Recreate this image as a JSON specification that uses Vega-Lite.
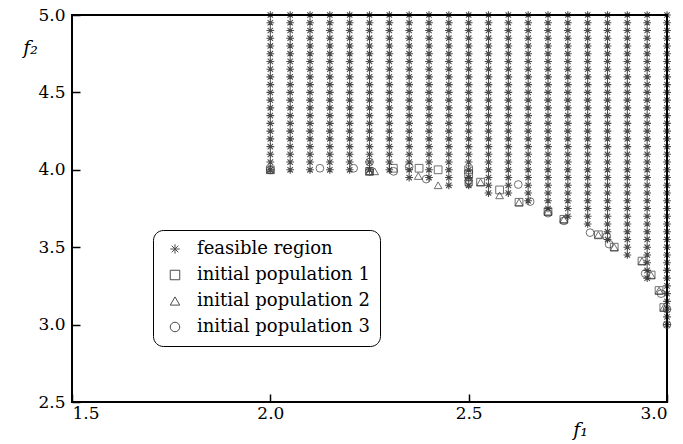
{
  "$schema": "https://vega.github.io/schema/vega-lite/v6.json",
  "width": 595,
  "height": 387,
  "autosize": {"type": "none"},
  "padding": {"left": 72, "top": 15, "right": 16, "bottom": 42},
  "background": "white",
  "config": {
    "view": {"stroke": "black", "strokeWidth": 2},
    "axis": {
      "grid": false,
      "labelFont": "DejaVu Serif",
      "labelFontSize": 17,
      "labelColor": "black",
      "titleFont": "DejaVu Serif",
      "titleFontSize": 19,
      "titleFontStyle": "italic",
      "titleFontWeight": "normal",
      "titleColor": "black"
    },
    "legend": {
      "orient": "none", "legendX": 81, "legendY": 215, "strokeColor": "black", "cornerRadius": 10, "padding": 10, "rowPadding": 8,
      "labelFont": "DejaVu Serif", "labelFontSize": 18, "labelColor": "black", "labelOffset": 13, "symbolOffset": 3, "labelLimit": 400,
      "symbolSize": 90, "symbolStrokeColor": "black", "symbolStrokeWidth": 1, "symbolFillColor": "transparent"
    }
  },
  "layer": [
    {
      "data": {"values": [
        {"f1":2.0,"f2":4},{"f1":2.0,"f2":4.05},{"f1":2.0,"f2":4.1},{"f1":2.0,"f2":4.15},{"f1":2.0,"f2":4.2},{"f1":2.0,"f2":4.25},{"f1":2.0,"f2":4.3},{"f1":2.0,"f2":4.35},{"f1":2.0,"f2":4.4},{"f1":2.0,"f2":4.45},{"f1":2.0,"f2":4.5},{"f1":2.0,"f2":4.55},{"f1":2.0,"f2":4.6},{"f1":2.0,"f2":4.65},{"f1":2.0,"f2":4.7},{"f1":2.0,"f2":4.75},{"f1":2.0,"f2":4.8},{"f1":2.0,"f2":4.85},{"f1":2.0,"f2":4.9},{"f1":2.0,"f2":4.95},{"f1":2.0,"f2":5},
        {"f1":2.05,"f2":4},{"f1":2.05,"f2":4.05},{"f1":2.05,"f2":4.1},{"f1":2.05,"f2":4.15},{"f1":2.05,"f2":4.2},{"f1":2.05,"f2":4.25},{"f1":2.05,"f2":4.3},{"f1":2.05,"f2":4.35},{"f1":2.05,"f2":4.4},{"f1":2.05,"f2":4.45},{"f1":2.05,"f2":4.5},{"f1":2.05,"f2":4.55},{"f1":2.05,"f2":4.6},{"f1":2.05,"f2":4.65},{"f1":2.05,"f2":4.7},{"f1":2.05,"f2":4.75},{"f1":2.05,"f2":4.8},{"f1":2.05,"f2":4.85},{"f1":2.05,"f2":4.9},{"f1":2.05,"f2":4.95},{"f1":2.05,"f2":5},
        {"f1":2.1,"f2":4},{"f1":2.1,"f2":4.05},{"f1":2.1,"f2":4.1},{"f1":2.1,"f2":4.15},{"f1":2.1,"f2":4.2},{"f1":2.1,"f2":4.25},{"f1":2.1,"f2":4.3},{"f1":2.1,"f2":4.35},{"f1":2.1,"f2":4.4},{"f1":2.1,"f2":4.45},{"f1":2.1,"f2":4.5},{"f1":2.1,"f2":4.55},{"f1":2.1,"f2":4.6},{"f1":2.1,"f2":4.65},{"f1":2.1,"f2":4.7},{"f1":2.1,"f2":4.75},{"f1":2.1,"f2":4.8},{"f1":2.1,"f2":4.85},{"f1":2.1,"f2":4.9},{"f1":2.1,"f2":4.95},{"f1":2.1,"f2":5},
        {"f1":2.15,"f2":4},{"f1":2.15,"f2":4.05},{"f1":2.15,"f2":4.1},{"f1":2.15,"f2":4.15},{"f1":2.15,"f2":4.2},{"f1":2.15,"f2":4.25},{"f1":2.15,"f2":4.3},{"f1":2.15,"f2":4.35},{"f1":2.15,"f2":4.4},{"f1":2.15,"f2":4.45},{"f1":2.15,"f2":4.5},{"f1":2.15,"f2":4.55},{"f1":2.15,"f2":4.6},{"f1":2.15,"f2":4.65},{"f1":2.15,"f2":4.7},{"f1":2.15,"f2":4.75},{"f1":2.15,"f2":4.8},{"f1":2.15,"f2":4.85},{"f1":2.15,"f2":4.9},{"f1":2.15,"f2":4.95},{"f1":2.15,"f2":5},
        {"f1":2.2,"f2":4},{"f1":2.2,"f2":4.05},{"f1":2.2,"f2":4.1},{"f1":2.2,"f2":4.15},{"f1":2.2,"f2":4.2},{"f1":2.2,"f2":4.25},{"f1":2.2,"f2":4.3},{"f1":2.2,"f2":4.35},{"f1":2.2,"f2":4.4},{"f1":2.2,"f2":4.45},{"f1":2.2,"f2":4.5},{"f1":2.2,"f2":4.55},{"f1":2.2,"f2":4.6},{"f1":2.2,"f2":4.65},{"f1":2.2,"f2":4.7},{"f1":2.2,"f2":4.75},{"f1":2.2,"f2":4.8},{"f1":2.2,"f2":4.85},{"f1":2.2,"f2":4.9},{"f1":2.2,"f2":4.95},{"f1":2.2,"f2":5},
        {"f1":2.25,"f2":4},{"f1":2.25,"f2":4.05},{"f1":2.25,"f2":4.1},{"f1":2.25,"f2":4.15},{"f1":2.25,"f2":4.2},{"f1":2.25,"f2":4.25},{"f1":2.25,"f2":4.3},{"f1":2.25,"f2":4.35},{"f1":2.25,"f2":4.4},{"f1":2.25,"f2":4.45},{"f1":2.25,"f2":4.5},{"f1":2.25,"f2":4.55},{"f1":2.25,"f2":4.6},{"f1":2.25,"f2":4.65},{"f1":2.25,"f2":4.7},{"f1":2.25,"f2":4.75},{"f1":2.25,"f2":4.8},{"f1":2.25,"f2":4.85},{"f1":2.25,"f2":4.9},{"f1":2.25,"f2":4.95},{"f1":2.25,"f2":5},
        {"f1":2.3,"f2":4},{"f1":2.3,"f2":4.05},{"f1":2.3,"f2":4.1},{"f1":2.3,"f2":4.15},{"f1":2.3,"f2":4.2},{"f1":2.3,"f2":4.25},{"f1":2.3,"f2":4.3},{"f1":2.3,"f2":4.35},{"f1":2.3,"f2":4.4},{"f1":2.3,"f2":4.45},{"f1":2.3,"f2":4.5},{"f1":2.3,"f2":4.55},{"f1":2.3,"f2":4.6},{"f1":2.3,"f2":4.65},{"f1":2.3,"f2":4.7},{"f1":2.3,"f2":4.75},{"f1":2.3,"f2":4.8},{"f1":2.3,"f2":4.85},{"f1":2.3,"f2":4.9},{"f1":2.3,"f2":4.95},{"f1":2.3,"f2":5},
        {"f1":2.35,"f2":3.95},{"f1":2.35,"f2":4},{"f1":2.35,"f2":4.05},{"f1":2.35,"f2":4.1},{"f1":2.35,"f2":4.15},{"f1":2.35,"f2":4.2},{"f1":2.35,"f2":4.25},{"f1":2.35,"f2":4.3},{"f1":2.35,"f2":4.35},{"f1":2.35,"f2":4.4},{"f1":2.35,"f2":4.45},{"f1":2.35,"f2":4.5},{"f1":2.35,"f2":4.55},{"f1":2.35,"f2":4.6},{"f1":2.35,"f2":4.65},{"f1":2.35,"f2":4.7},{"f1":2.35,"f2":4.75},{"f1":2.35,"f2":4.8},{"f1":2.35,"f2":4.85},{"f1":2.35,"f2":4.9},{"f1":2.35,"f2":4.95},{"f1":2.35,"f2":5},
        {"f1":2.4,"f2":3.95},{"f1":2.4,"f2":4},{"f1":2.4,"f2":4.05},{"f1":2.4,"f2":4.1},{"f1":2.4,"f2":4.15},{"f1":2.4,"f2":4.2},{"f1":2.4,"f2":4.25},{"f1":2.4,"f2":4.3},{"f1":2.4,"f2":4.35},{"f1":2.4,"f2":4.4},{"f1":2.4,"f2":4.45},{"f1":2.4,"f2":4.5},{"f1":2.4,"f2":4.55},{"f1":2.4,"f2":4.6},{"f1":2.4,"f2":4.65},{"f1":2.4,"f2":4.7},{"f1":2.4,"f2":4.75},{"f1":2.4,"f2":4.8},{"f1":2.4,"f2":4.85},{"f1":2.4,"f2":4.9},{"f1":2.4,"f2":4.95},{"f1":2.4,"f2":5},
        {"f1":2.45,"f2":3.9},{"f1":2.45,"f2":3.95},{"f1":2.45,"f2":4},{"f1":2.45,"f2":4.05},{"f1":2.45,"f2":4.1},{"f1":2.45,"f2":4.15},{"f1":2.45,"f2":4.2},{"f1":2.45,"f2":4.25},{"f1":2.45,"f2":4.3},{"f1":2.45,"f2":4.35},{"f1":2.45,"f2":4.4},{"f1":2.45,"f2":4.45},{"f1":2.45,"f2":4.5},{"f1":2.45,"f2":4.55},{"f1":2.45,"f2":4.6},{"f1":2.45,"f2":4.65},{"f1":2.45,"f2":4.7},{"f1":2.45,"f2":4.75},{"f1":2.45,"f2":4.8},{"f1":2.45,"f2":4.85},{"f1":2.45,"f2":4.9},{"f1":2.45,"f2":4.95},{"f1":2.45,"f2":5},
        {"f1":2.5,"f2":3.9},{"f1":2.5,"f2":3.95},{"f1":2.5,"f2":4},{"f1":2.5,"f2":4.05},{"f1":2.5,"f2":4.1},{"f1":2.5,"f2":4.15},{"f1":2.5,"f2":4.2},{"f1":2.5,"f2":4.25},{"f1":2.5,"f2":4.3},{"f1":2.5,"f2":4.35},{"f1":2.5,"f2":4.4},{"f1":2.5,"f2":4.45},{"f1":2.5,"f2":4.5},{"f1":2.5,"f2":4.55},{"f1":2.5,"f2":4.6},{"f1":2.5,"f2":4.65},{"f1":2.5,"f2":4.7},{"f1":2.5,"f2":4.75},{"f1":2.5,"f2":4.8},{"f1":2.5,"f2":4.85},{"f1":2.5,"f2":4.9},{"f1":2.5,"f2":4.95},{"f1":2.5,"f2":5},
        {"f1":2.55,"f2":3.85},{"f1":2.55,"f2":3.9},{"f1":2.55,"f2":3.95},{"f1":2.55,"f2":4},{"f1":2.55,"f2":4.05},{"f1":2.55,"f2":4.1},{"f1":2.55,"f2":4.15},{"f1":2.55,"f2":4.2},{"f1":2.55,"f2":4.25},{"f1":2.55,"f2":4.3},{"f1":2.55,"f2":4.35},{"f1":2.55,"f2":4.4},{"f1":2.55,"f2":4.45},{"f1":2.55,"f2":4.5},{"f1":2.55,"f2":4.55},{"f1":2.55,"f2":4.6},{"f1":2.55,"f2":4.65},{"f1":2.55,"f2":4.7},{"f1":2.55,"f2":4.75},{"f1":2.55,"f2":4.8},{"f1":2.55,"f2":4.85},{"f1":2.55,"f2":4.9},{"f1":2.55,"f2":4.95},{"f1":2.55,"f2":5},
        {"f1":2.6,"f2":3.85},{"f1":2.6,"f2":3.9},{"f1":2.6,"f2":3.95},{"f1":2.6,"f2":4},{"f1":2.6,"f2":4.05},{"f1":2.6,"f2":4.1},{"f1":2.6,"f2":4.15},{"f1":2.6,"f2":4.2},{"f1":2.6,"f2":4.25},{"f1":2.6,"f2":4.3},{"f1":2.6,"f2":4.35},{"f1":2.6,"f2":4.4},{"f1":2.6,"f2":4.45},{"f1":2.6,"f2":4.5},{"f1":2.6,"f2":4.55},{"f1":2.6,"f2":4.6},{"f1":2.6,"f2":4.65},{"f1":2.6,"f2":4.7},{"f1":2.6,"f2":4.75},{"f1":2.6,"f2":4.8},{"f1":2.6,"f2":4.85},{"f1":2.6,"f2":4.9},{"f1":2.6,"f2":4.95},{"f1":2.6,"f2":5},
        {"f1":2.65,"f2":3.8},{"f1":2.65,"f2":3.85},{"f1":2.65,"f2":3.9},{"f1":2.65,"f2":3.95},{"f1":2.65,"f2":4},{"f1":2.65,"f2":4.05},{"f1":2.65,"f2":4.1},{"f1":2.65,"f2":4.15},{"f1":2.65,"f2":4.2},{"f1":2.65,"f2":4.25},{"f1":2.65,"f2":4.3},{"f1":2.65,"f2":4.35},{"f1":2.65,"f2":4.4},{"f1":2.65,"f2":4.45},{"f1":2.65,"f2":4.5},{"f1":2.65,"f2":4.55},{"f1":2.65,"f2":4.6},{"f1":2.65,"f2":4.65},{"f1":2.65,"f2":4.7},{"f1":2.65,"f2":4.75},{"f1":2.65,"f2":4.8},{"f1":2.65,"f2":4.85},{"f1":2.65,"f2":4.9},{"f1":2.65,"f2":4.95},{"f1":2.65,"f2":5},
        {"f1":2.7,"f2":3.75},{"f1":2.7,"f2":3.8},{"f1":2.7,"f2":3.85},{"f1":2.7,"f2":3.9},{"f1":2.7,"f2":3.95},{"f1":2.7,"f2":4},{"f1":2.7,"f2":4.05},{"f1":2.7,"f2":4.1},{"f1":2.7,"f2":4.15},{"f1":2.7,"f2":4.2},{"f1":2.7,"f2":4.25},{"f1":2.7,"f2":4.3},{"f1":2.7,"f2":4.35},{"f1":2.7,"f2":4.4},{"f1":2.7,"f2":4.45},{"f1":2.7,"f2":4.5},{"f1":2.7,"f2":4.55},{"f1":2.7,"f2":4.6},{"f1":2.7,"f2":4.65},{"f1":2.7,"f2":4.7},{"f1":2.7,"f2":4.75},{"f1":2.7,"f2":4.8},{"f1":2.7,"f2":4.85},{"f1":2.7,"f2":4.9},{"f1":2.7,"f2":4.95},{"f1":2.7,"f2":5},
        {"f1":2.75,"f2":3.7},{"f1":2.75,"f2":3.75},{"f1":2.75,"f2":3.8},{"f1":2.75,"f2":3.85},{"f1":2.75,"f2":3.9},{"f1":2.75,"f2":3.95},{"f1":2.75,"f2":4},{"f1":2.75,"f2":4.05},{"f1":2.75,"f2":4.1},{"f1":2.75,"f2":4.15},{"f1":2.75,"f2":4.2},{"f1":2.75,"f2":4.25},{"f1":2.75,"f2":4.3},{"f1":2.75,"f2":4.35},{"f1":2.75,"f2":4.4},{"f1":2.75,"f2":4.45},{"f1":2.75,"f2":4.5},{"f1":2.75,"f2":4.55},{"f1":2.75,"f2":4.6},{"f1":2.75,"f2":4.65},{"f1":2.75,"f2":4.7},{"f1":2.75,"f2":4.75},{"f1":2.75,"f2":4.8},{"f1":2.75,"f2":4.85},{"f1":2.75,"f2":4.9},{"f1":2.75,"f2":4.95},{"f1":2.75,"f2":5},
        {"f1":2.8,"f2":3.65},{"f1":2.8,"f2":3.7},{"f1":2.8,"f2":3.75},{"f1":2.8,"f2":3.8},{"f1":2.8,"f2":3.85},{"f1":2.8,"f2":3.9},{"f1":2.8,"f2":3.95},{"f1":2.8,"f2":4},{"f1":2.8,"f2":4.05},{"f1":2.8,"f2":4.1},{"f1":2.8,"f2":4.15},{"f1":2.8,"f2":4.2},{"f1":2.8,"f2":4.25},{"f1":2.8,"f2":4.3},{"f1":2.8,"f2":4.35},{"f1":2.8,"f2":4.4},{"f1":2.8,"f2":4.45},{"f1":2.8,"f2":4.5},{"f1":2.8,"f2":4.55},{"f1":2.8,"f2":4.6},{"f1":2.8,"f2":4.65},{"f1":2.8,"f2":4.7},{"f1":2.8,"f2":4.75},{"f1":2.8,"f2":4.8},{"f1":2.8,"f2":4.85},{"f1":2.8,"f2":4.9},{"f1":2.8,"f2":4.95},{"f1":2.8,"f2":5},
        {"f1":2.85,"f2":3.55},{"f1":2.85,"f2":3.6},{"f1":2.85,"f2":3.65},{"f1":2.85,"f2":3.7},{"f1":2.85,"f2":3.75},{"f1":2.85,"f2":3.8},{"f1":2.85,"f2":3.85},{"f1":2.85,"f2":3.9},{"f1":2.85,"f2":3.95},{"f1":2.85,"f2":4},{"f1":2.85,"f2":4.05},{"f1":2.85,"f2":4.1},{"f1":2.85,"f2":4.15},{"f1":2.85,"f2":4.2},{"f1":2.85,"f2":4.25},{"f1":2.85,"f2":4.3},{"f1":2.85,"f2":4.35},{"f1":2.85,"f2":4.4},{"f1":2.85,"f2":4.45},{"f1":2.85,"f2":4.5},{"f1":2.85,"f2":4.55},{"f1":2.85,"f2":4.6},{"f1":2.85,"f2":4.65},{"f1":2.85,"f2":4.7},{"f1":2.85,"f2":4.75},{"f1":2.85,"f2":4.8},{"f1":2.85,"f2":4.85},{"f1":2.85,"f2":4.9},{"f1":2.85,"f2":4.95},{"f1":2.85,"f2":5},
        {"f1":2.9,"f2":3.45},{"f1":2.9,"f2":3.5},{"f1":2.9,"f2":3.55},{"f1":2.9,"f2":3.6},{"f1":2.9,"f2":3.65},{"f1":2.9,"f2":3.7},{"f1":2.9,"f2":3.75},{"f1":2.9,"f2":3.8},{"f1":2.9,"f2":3.85},{"f1":2.9,"f2":3.9},{"f1":2.9,"f2":3.95},{"f1":2.9,"f2":4},{"f1":2.9,"f2":4.05},{"f1":2.9,"f2":4.1},{"f1":2.9,"f2":4.15},{"f1":2.9,"f2":4.2},{"f1":2.9,"f2":4.25},{"f1":2.9,"f2":4.3},{"f1":2.9,"f2":4.35},{"f1":2.9,"f2":4.4},{"f1":2.9,"f2":4.45},{"f1":2.9,"f2":4.5},{"f1":2.9,"f2":4.55},{"f1":2.9,"f2":4.6},{"f1":2.9,"f2":4.65},{"f1":2.9,"f2":4.7},{"f1":2.9,"f2":4.75},{"f1":2.9,"f2":4.8},{"f1":2.9,"f2":4.85},{"f1":2.9,"f2":4.9},{"f1":2.9,"f2":4.95},{"f1":2.9,"f2":5},
        {"f1":2.95,"f2":3.3},{"f1":2.95,"f2":3.35},{"f1":2.95,"f2":3.4},{"f1":2.95,"f2":3.45},{"f1":2.95,"f2":3.5},{"f1":2.95,"f2":3.55},{"f1":2.95,"f2":3.6},{"f1":2.95,"f2":3.65},{"f1":2.95,"f2":3.7},{"f1":2.95,"f2":3.75},{"f1":2.95,"f2":3.8},{"f1":2.95,"f2":3.85},{"f1":2.95,"f2":3.9},{"f1":2.95,"f2":3.95},{"f1":2.95,"f2":4},{"f1":2.95,"f2":4.05},{"f1":2.95,"f2":4.1},{"f1":2.95,"f2":4.15},{"f1":2.95,"f2":4.2},{"f1":2.95,"f2":4.25},{"f1":2.95,"f2":4.3},{"f1":2.95,"f2":4.35},{"f1":2.95,"f2":4.4},{"f1":2.95,"f2":4.45},{"f1":2.95,"f2":4.5},{"f1":2.95,"f2":4.55},{"f1":2.95,"f2":4.6},{"f1":2.95,"f2":4.65},{"f1":2.95,"f2":4.7},{"f1":2.95,"f2":4.75},{"f1":2.95,"f2":4.8},{"f1":2.95,"f2":4.85},{"f1":2.95,"f2":4.9},{"f1":2.95,"f2":4.95},{"f1":2.95,"f2":5},
        {"f1":3.0,"f2":3},{"f1":3.0,"f2":3.05},{"f1":3.0,"f2":3.1},{"f1":3.0,"f2":3.15},{"f1":3.0,"f2":3.2},{"f1":3.0,"f2":3.25},{"f1":3.0,"f2":3.3},{"f1":3.0,"f2":3.35},{"f1":3.0,"f2":3.4},{"f1":3.0,"f2":3.45},{"f1":3.0,"f2":3.5},{"f1":3.0,"f2":3.55},{"f1":3.0,"f2":3.6},{"f1":3.0,"f2":3.65},{"f1":3.0,"f2":3.7},{"f1":3.0,"f2":3.75},{"f1":3.0,"f2":3.8},{"f1":3.0,"f2":3.85},{"f1":3.0,"f2":3.9},{"f1":3.0,"f2":3.95},{"f1":3.0,"f2":4},{"f1":3.0,"f2":4.05},{"f1":3.0,"f2":4.1},{"f1":3.0,"f2":4.15},{"f1":3.0,"f2":4.2},{"f1":3.0,"f2":4.25},{"f1":3.0,"f2":4.3},{"f1":3.0,"f2":4.35},{"f1":3.0,"f2":4.4},{"f1":3.0,"f2":4.45},{"f1":3.0,"f2":4.5},{"f1":3.0,"f2":4.55},{"f1":3.0,"f2":4.6},{"f1":3.0,"f2":4.65},{"f1":3.0,"f2":4.7},{"f1":3.0,"f2":4.75},{"f1":3.0,"f2":4.8},{"f1":3.0,"f2":4.85},{"f1":3.0,"f2":4.9},{"f1":3.0,"f2":4.95},{"f1":3.0,"f2":5}
      ]},
      "mark": {"type": "point", "filled": false, "color": "#000000", "strokeWidth": 1.1, "size": 60, "clip": false},
      "encoding": {
        "x": {"field": "f1", "type": "quantitative", "scale": {"domain": [1.5, 3.0], "nice": false, "zero": false},
              "axis": {"orient": "bottom", "values": [1.5, 2.0, 2.5, 3.0], "format": ".1f", "title": "f₁", "zindex": 5, "domain": false, "ticks": true, "tickSize": 8, "tickWidth": 1.5, "tickColor": "black", "offset": -8, "labelPadding": 3, "titleX": 508, "titleY": 26, "titleAlign": "center", "titleBaseline": "top"}},
        "y": {"field": "f2", "type": "quantitative", "scale": {"domain": [2.5, 5.0], "nice": false, "zero": false},
              "axis": {"orient": "left", "values": [2.5, 3.0, 3.5, 4.0, 4.5, 5.0], "format": ".1f", "title": "f₂", "zindex": 5, "domain": false, "ticks": true, "tickSize": 8, "tickWidth": 1.5, "tickColor": "black", "offset": -8, "labelPadding": 7, "titleAngle": 0, "titleX": -50, "titleY": 32, "titleAlign": "center", "titleBaseline": "middle"}},
        "shape": {"datum": "feasible region", "type": "nominal", "title": null,
                  "scale": {"domain": ["feasible region", "initial population 1", "initial population 2", "initial population 3"],
                            "range": ["M0,-1L0,1M-1,0L1,0M-0.7,-0.7L0.7,0.7M-0.7,0.7L0.7,-0.7", "square", "triangle-up", "circle"]},
                  "legend": {"title": null, "labelLimit": 400}}
      }
    },
    {
      "data": {"values": [
        {"f1":2.0,"f2":4.0,"series":"initial population 1"},
        {"f1":2.25,"f2":3.99,"series":"initial population 1"},
        {"f1":2.31,"f2":4.01,"series":"initial population 1"},
        {"f1":2.375,"f2":4.01,"series":"initial population 1"},
        {"f1":2.423,"f2":4.0,"series":"initial population 1"},
        {"f1":2.5,"f2":4.0,"series":"initial population 1"},
        {"f1":2.5,"f2":3.97,"series":"initial population 1"},
        {"f1":2.53,"f2":3.92,"series":"initial population 1"},
        {"f1":2.578,"f2":3.87,"series":"initial population 1"},
        {"f1":2.627,"f2":3.79,"series":"initial population 1"},
        {"f1":2.7,"f2":3.73,"series":"initial population 1"},
        {"f1":2.74,"f2":3.68,"series":"initial population 1"},
        {"f1":2.827,"f2":3.58,"series":"initial population 1"},
        {"f1":2.867,"f2":3.5,"series":"initial population 1"},
        {"f1":2.937,"f2":3.41,"series":"initial population 1"},
        {"f1":2.96,"f2":3.32,"series":"initial population 1"},
        {"f1":2.98,"f2":3.22,"series":"initial population 1"},
        {"f1":2.992,"f2":3.11,"series":"initial population 1"},
        {"f1":2.0,"f2":4.0,"series":"initial population 2"},
        {"f1":2.25,"f2":3.99,"series":"initial population 2"},
        {"f1":2.263,"f2":3.99,"series":"initial population 2"},
        {"f1":2.373,"f2":3.96,"series":"initial population 2"},
        {"f1":2.423,"f2":3.9,"series":"initial population 2"},
        {"f1":2.5,"f2":3.95,"series":"initial population 2"},
        {"f1":2.53,"f2":3.92,"series":"initial population 2"},
        {"f1":2.578,"f2":3.835,"series":"initial population 2"},
        {"f1":2.627,"f2":3.79,"series":"initial population 2"},
        {"f1":2.7,"f2":3.73,"series":"initial population 2"},
        {"f1":2.74,"f2":3.68,"series":"initial population 2"},
        {"f1":2.827,"f2":3.58,"series":"initial population 2"},
        {"f1":2.867,"f2":3.5,"series":"initial population 2"},
        {"f1":2.937,"f2":3.41,"series":"initial population 2"},
        {"f1":2.96,"f2":3.32,"series":"initial population 2"},
        {"f1":2.98,"f2":3.22,"series":"initial population 2"},
        {"f1":2.992,"f2":3.11,"series":"initial population 2"},
        {"f1":2.0,"f2":4.0,"series":"initial population 3"},
        {"f1":2.125,"f2":4.01,"series":"initial population 3"},
        {"f1":2.21,"f2":4.01,"series":"initial population 3"},
        {"f1":2.25,"f2":4.05,"series":"initial population 3"},
        {"f1":2.25,"f2":3.99,"series":"initial population 3"},
        {"f1":2.311,"f2":3.99,"series":"initial population 3"},
        {"f1":2.35,"f2":4.02,"series":"initial population 3"},
        {"f1":2.393,"f2":3.94,"series":"initial population 3"},
        {"f1":2.5,"f2":3.93,"series":"initial population 3"},
        {"f1":2.5,"f2":3.91,"series":"initial population 3"},
        {"f1":2.625,"f2":3.905,"series":"initial population 3"},
        {"f1":2.655,"f2":3.795,"series":"initial population 3"},
        {"f1":2.7,"f2":3.72,"series":"initial population 3"},
        {"f1":2.74,"f2":3.67,"series":"initial population 3"},
        {"f1":2.806,"f2":3.594,"series":"initial population 3"},
        {"f1":2.848,"f2":3.57,"series":"initial population 3"},
        {"f1":2.854,"f2":3.52,"series":"initial population 3"},
        {"f1":2.945,"f2":3.33,"series":"initial population 3"},
        {"f1":2.985,"f2":3.2,"series":"initial population 3"},
        {"f1":3.0,"f2":3.1,"series":"initial population 3"},
        {"f1":3.0,"f2":3.0,"series":"initial population 3"}
      ]},
      "mark": {"type": "point", "filled": false, "color": "#333333", "strokeWidth": 1, "size": 60, "clip": false},
      "encoding": {
        "x": {"field": "f1", "type": "quantitative"},
        "y": {"field": "f2", "type": "quantitative"},
        "shape": {"field": "series", "type": "nominal", "title": null, "legend": {"title": null, "labelLimit": 400}}
      }
    }
  ]
}
